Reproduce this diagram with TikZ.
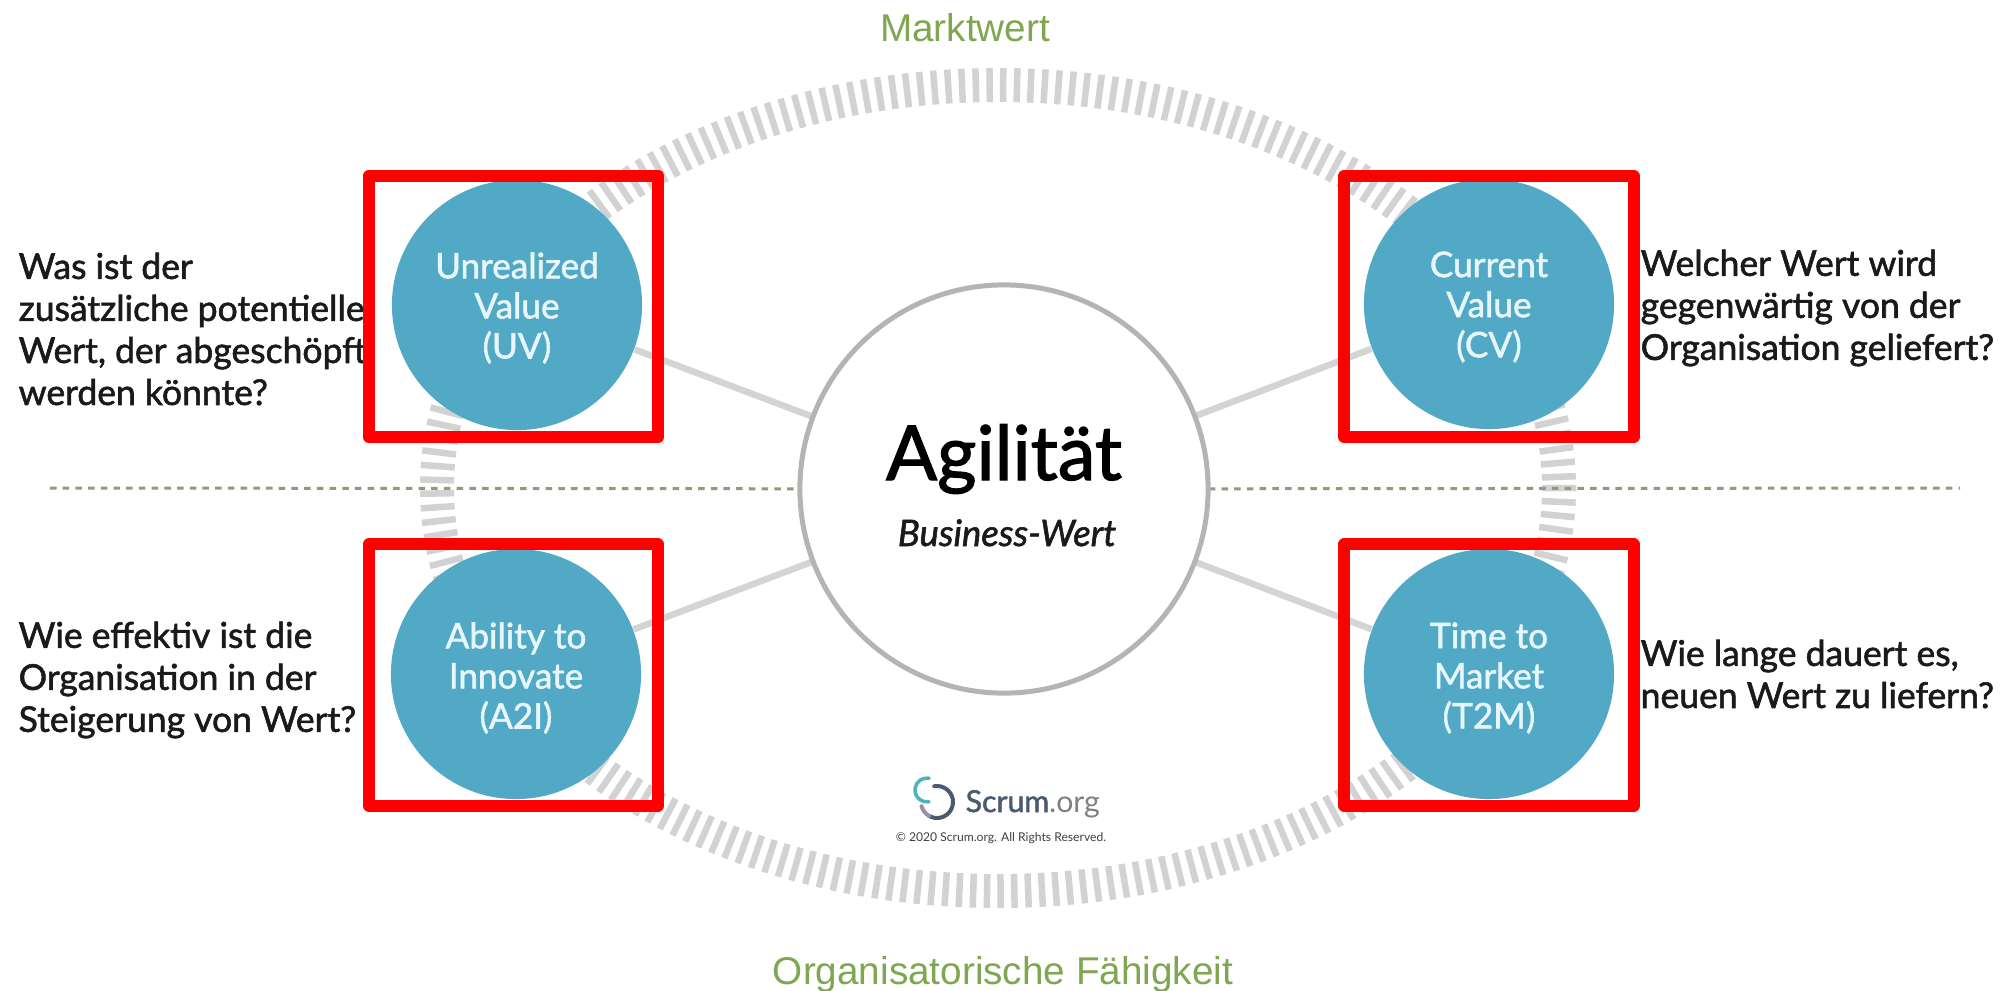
\documentclass[tikz,border=0pt]{standalone}
\usepackage{fontspec}
\usetikzlibrary{decorations.pathreplacing}
\setmainfont{Lato}
\newfontfamily\arialfont{Liberation Sans}
\newfontfamily\medfont{Lato}[FakeBold=1.6]
\definecolor{tealc}{HTML}{52A9C5}
\definecolor{greenc}{HTML}{7FA651}
\definecolor{ringc}{HTML}{D2D2D2}
\definecolor{linec}{HTML}{D4D4D4}
\definecolor{ctrc}{HTML}{B4B4B4}
\definecolor{dashc}{HTML}{8E9C7A}
\definecolor{inkc}{HTML}{1A1A1A}
\definecolor{whc}{HTML}{E6F6FA}
\definecolor{logod}{HTML}{4A5A70}
\definecolor{logot}{HTML}{4FB3BF}
\definecolor{logol}{HTML}{9A8FA8}
\tikzset{
  metric/.style={circle,fill=tealc,draw=none,minimum size=2.5cm,inner sep=0pt},
  metrictext/.style={inner sep=0pt,text=whc,align=center,
    font=\medfont\fontsize{10}{11.4}\selectfont},
  question/.style={anchor=west,align=left,text=inkc,inner sep=0pt,
    font=\medfont\fontsize{10.1}{11.95}\selectfont},
  redbox/.style={draw=red,line width=0.12cm,line join=round,fill=none,minimum width=2.89cm,minimum height=2.61cm,inner sep=0pt},
  axislabel/.style={anchor=base,text=greenc,inner sep=0pt,font=\arialfont\fontsize{11}{13}\selectfont},
  connector/.style={draw=linec,line width=0.065cm},
  dashline/.style={draw=dashc,line width=0.03cm,dash pattern=on 0.065cm off 0.062cm},
  anchorcircle/.style={circle,inner sep=0pt}
}
\begin{document}
\begin{tikzpicture}[x=0.01cm,y=-0.01cm]
\useasboundingbox (0,0) rectangle (2008,990);
\fill[white] (0,0) rectangle (2008,990);
% ring of ticks
\draw[ringc,line width=0.065cm,decorate,decoration={ticks,segment length=0.138cm,amplitude=0.17cm}]
  (998,488) ellipse [x radius=561,y radius=403];
% dashed divider
\coordinate (dl) at (50,488);
\coordinate (dr) at (1960,488);
\node[anchorcircle,minimum size=4.08cm] (agil0) at (1004,489) {};
\draw[dashline] (dl) -- (agil0);
\draw[dashline] (agil0) -- (dr);
% connector ends
\node[anchorcircle,minimum size=2.5cm] (uv0) at (517,305) {};
\node[anchorcircle,minimum size=2.5cm] (cv0) at (1489,304) {};
\node[anchorcircle,minimum size=2.5cm] (a2i0) at (516,674) {};
\node[anchorcircle,minimum size=2.5cm] (t2m0) at (1489,674) {};
\draw[connector] (uv0) -- (agil0);
\draw[connector] (cv0) -- (agil0);
\draw[connector] (a2i0) -- (agil0);
\draw[connector] (t2m0) -- (agil0);
% centre
\node[circle,draw=ctrc,line width=0.05cm,fill=white,minimum size=4.08cm,inner sep=0pt] (agil) at (1004,489) {};
\node[inner sep=0pt,anchor=base,font=\medfont\fontsize{21.5}{26}\selectfont,text=black] (agt) at (1004,480) {Agilität};
\node[inner sep=0pt,anchor=base,font=\medfont\fontsize{10.4}{12}\selectfont\itshape,text=inkc] (bw) at (1007,546) {Business-Wert};
% metrics
\node[metric] (uv) at (517,305) {};
\node[metric] (cv) at (1489,304) {};
\node[metric] (a2i) at (516,674) {};
\node[metric] (t2m) at (1489,674) {};
\node[metrictext] (uvt) at (517,308) {Unrealized\\Value\\(UV)};
\node[metrictext] (cvt) at (1489,307) {Current\\Value\\(CV)};
\node[metrictext] (a2it) at (516,678) {Ability to\\Innovate\\(A2I)};
\node[metrictext] (t2mt) at (1489,678) {Time to\\Market\\(T2M)};
% questions
\node[question] (q1) at (18,329) {Was ist der\\zusätzliche potentielle\\Wert, der abgeschöpft\\werden könnte?};
\node[question] (q2) at (1640,308) {Welcher Wert wird\\gegenwärtig von der\\Organisation geliefert?};
\node[question] (q3) at (18,680) {Wie effektiv ist die\\Organisation in der\\Steigerung von Wert?};
\node[question] (q4) at (1640,674) {Wie lange dauert es,\\neuen Wert zu liefern?};
% axis labels
\node[axislabel] (mw) at (965,41) {Marktwert};
\node[axislabel] (of) at (1003,984) {Organisatorische Fähigkeit};
% logo
\node[inner sep=0pt,anchor=base west,text=logod,font=\medfont\fontsize{8.6}{10}\selectfont] (lg) at (965,812) {Scrum\textcolor{gray}{\rmfamily.org}};
\node[inner sep=0pt,text=black!75,font=\fontsize{3.45}{4}\selectfont] (cp) at (1001,838) {© 2020 Scrum.org. All Rights Reserved.};
\begin{scope}[shift={(937,802)},x=0.01cm,y=0.01cm,line cap=round]
\draw[logod,line width=0.04cm] (100:16) arc[start angle=100,end angle=-120,radius=16];
\draw[logol,line width=0.04cm] (-120:16) arc[start angle=-120,end angle=-165,radius=16];
\draw[logot,line width=0.035cm] (-10,12)++(80:12) arc[start angle=80,end angle=280,radius=12];
\end{scope}
% red boxes
\node[redbox] (b1) at (513.5,306.5) {};
\node[redbox] (b2) at (1489,306.5) {};
\node[redbox] (b3) at (513.5,675) {};
\node[redbox] (b4) at (1489,675) {};
\end{tikzpicture}
\end{document}
